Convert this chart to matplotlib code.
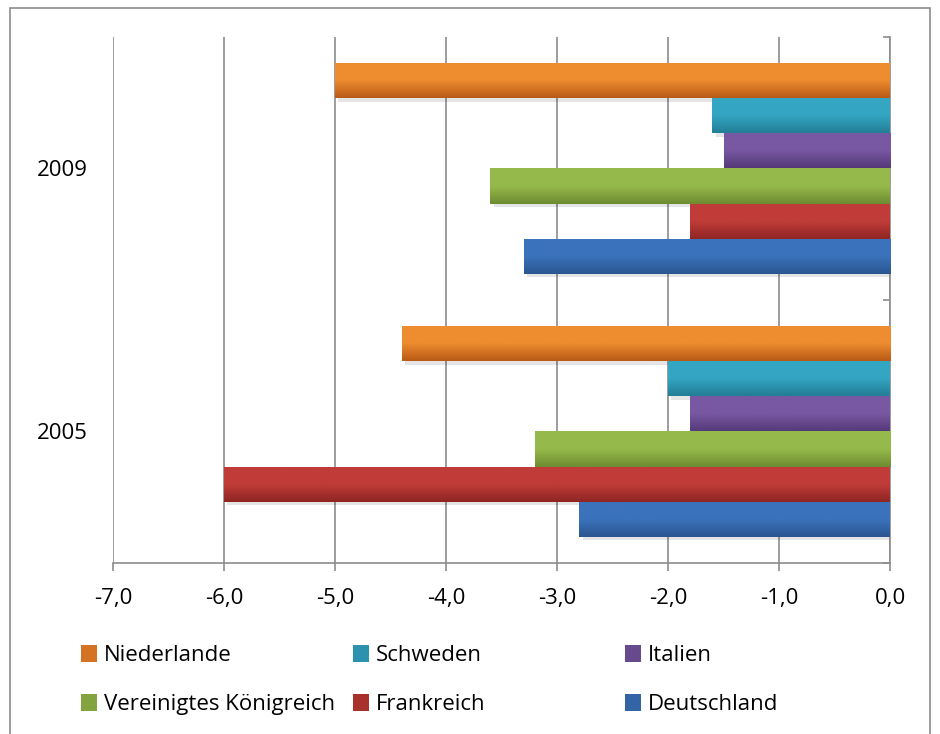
import numpy as np
import matplotlib
matplotlib.use('Agg')
import matplotlib.pyplot as plt
from matplotlib.patches import Rectangle
from matplotlib.colors import LinearSegmentedColormap, to_rgb

# data
years = ['2005', '2009']
series = ['Niederlande', 'Schweden', 'Italien',
          'Vereinigtes Königreich', 'Frankreich', 'Deutschland']
niederlande = [-4.4, -5.0]
schweden = [-2.0, -1.6]
italien = [-1.8, -1.5]
vereinigtes_koenigreich = [-3.2, -3.6]
frankreich = [-6.0, -1.8]
deutschland = [-2.8, -3.3]
values = [niederlande, schweden, italien, vereinigtes_koenigreich, frankreich, deutschland]
xticks = [-7, -6, -5, -4, -3, -2, -1, 0]

# top / bottom gradient colours per series
colors = [('#EE8C30', '#B95A16'),
          ('#34A6C3', '#237E97'),
          ('#7858A2', '#553A7A'),
          ('#96B94B', '#6E8C31'),
          ('#C03C39', '#8F2523'),
          ('#3B73BB', '#2A5590')]

plt.rcParams['font.family'] = ['Open Sans', 'DejaVu Sans']
FS = 16

fig = plt.figure(figsize=(9.4, 7.34), dpi=100)
# outer frame
fig.patches.append(Rectangle((10 / 940, -0.01), 920 / 940, 1 - 8 / 734 + 0.01,
                             transform=fig.transFigure, fill=False,
                             edgecolor='#8c8c8c', linewidth=1.2))

ax = fig.add_axes([113 / 940, 1 - 563 / 734, (890 - 113) / 940, (563 - 37) / 734])

n = len(series)
h = 0.8 / n
ypos = np.arange(len(years))
grad = np.linspace(0, 1, 64).reshape(-1, 1)

for i, (name, vals, (ctop, cbot)) in enumerate(zip(series, values, colors)):
    off = 0.4 - h / 2 - i * h
    y = ypos + off
    # soft shadow
    ax.barh(y - 0.012, vals, height=h, left=0.03, color='#000000', alpha=0.10,
            linewidth=0, zorder=2)
    mid = tuple((np.array(to_rgb(ctop)) + np.array(to_rgb(cbot))) / 2)
    bars = ax.barh(y, vals, height=h, color=mid, linewidth=0, zorder=3, label=name)
    cmap = LinearSegmentedColormap.from_list(name, [to_rgb(cbot), to_rgb(ctop), to_rgb(ctop)])
    for b in bars:
        x0 = b.get_x()
        w = b.get_width()
        yb = b.get_y()
        im = ax.imshow(grad, extent=[x0, x0 + w, yb, yb + b.get_height()],
                       cmap=cmap, aspect='auto', origin='lower', zorder=4)
        im.set_clip_path(b)

ax.set_xlim(-7, 0)
ax.set_ylim(-0.5, 1.5)
ax.set_xticks(xticks)
ax.set_xticklabels([('%.1f' % v).replace('.', ',') for v in xticks])
ax.set_yticks(ypos)
ax.set_yticklabels(years)
ax.set_yticks([-0.5, 0.5, 1.5], minor=True)

ax.grid(axis='x', color='#8c8c8c', linewidth=1.2, zorder=0)
ax.set_axisbelow(True)
for s in ['top', 'left']:
    ax.spines[s].set_visible(False)
ax.spines['bottom'].set_color('#8c8c8c')
ax.spines['bottom'].set_linewidth(1.2)
ax.spines['right'].set_color('#8c8c8c')
ax.spines['right'].set_linewidth(1.2)

ax.tick_params(axis='x', length=6, color='#8c8c8c', width=1.2, labelsize=FS, pad=12)
ax.tick_params(axis='y', which='major', length=0, labelsize=FS, pad=18)
ax.tick_params(axis='y', which='minor', left=False, right=True, labelright=False,
               direction='in', length=5, color='#8c8c8c', width=1.2)

# legend: three equal columns, two rows each
handles, labels = ax.get_legend_handles_labels()
col_x = [81, 353, 625]
for c in range(3):
    idx = [c, c + 3]
    fig.legend([handles[k] for k in idx], [labels[k] for k in idx],
               loc='upper left', bbox_to_anchor=(col_x[c] / 940, 1 - 645 / 734),
               frameon=False, fontsize=FS, handlelength=0.72, handleheight=0.8,
               handletextpad=0.3, labelspacing=1.25, borderpad=0, borderaxespad=0)

fig.savefig('out.png', dpi=100, facecolor='white')
